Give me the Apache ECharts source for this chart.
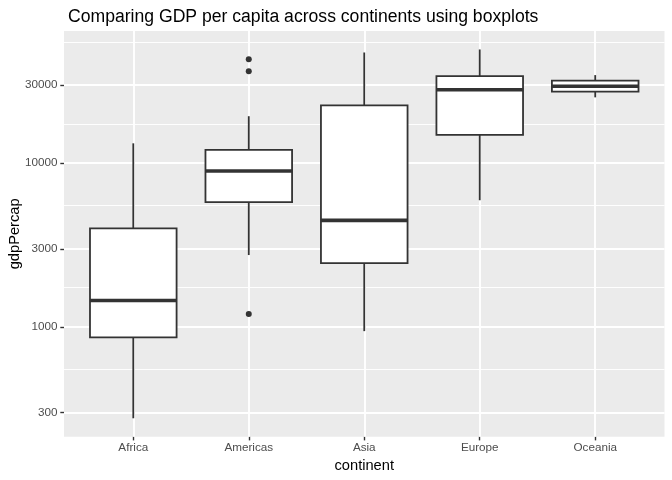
<!DOCTYPE html>
<html>
<head>
<meta charset="utf-8">
<script src="https://cdn.jsdelivr.net/npm/echarts@6/dist/echarts.min.js"></script>
<style>
  html, body { margin: 0; padding: 0; background: #fff; }
  #chart { width: 672px; height: 480px; }
</style>
</head>
<body>
<div id="chart"></div>
<script>
// box statistics (gdpPercap, 2007)
const continents = ['Africa', 'Americas', 'Asia', 'Europe', 'Oceania'];
const whiskerLow = [277.6, 2749, 944, 5937, 25185];
const lowerHinge = [865, 5781, 2455, 14890, 27300];
const medians = [1452, 8948, 4471, 28054, 29450];
const upperHinge = [4000, 12050, 22490, 33900, 31900];
const whiskerHigh = [13206, 19329, 47307, 49357, 34435];

const outlierContinent = ['Americas', 'Americas', 'Americas'];
const outlierGdp = [42952, 36319, 1201.6];

const majorBreaks = [300, 1000, 3000, 10000, 30000];
const minorBreaks = [547.7, 1732, 5477, 17321, 54772];

const lg = Math.log10;
const pos = name => continents.indexOf(name) + 1;

const boxData = continents.map((c, i) => [
    i + 1, lg(whiskerLow[i]), lg(lowerHinge[i]), lg(medians[i]), lg(upperHinge[i]), lg(whiskerHigh[i])
]);
const outlierData = outlierGdp.map((v, i) => [pos(outlierContinent[i]), lg(v)]);

const ink = '#333333';

function renderBox(params, api) {
    const x = api.value(0);
    const half = api.size([0.75, 0])[0] / 2;
    const pLow = api.coord([x, api.value(1)]);
    const pQ1 = api.coord([x, api.value(2)]);
    const pMed = api.coord([x, api.value(3)]);
    const pQ3 = api.coord([x, api.value(4)]);
    const pHigh = api.coord([x, api.value(5)]);
    const line = { stroke: ink, lineWidth: 1.8 };
    return {
        type: 'group',
        children: [
            { type: 'line', shape: { x1: pLow[0], y1: pLow[1], x2: pQ1[0], y2: pQ1[1] }, style: line },
            { type: 'line', shape: { x1: pQ3[0], y1: pQ3[1], x2: pHigh[0], y2: pHigh[1] }, style: line },
            {
                type: 'rect',
                shape: { x: pQ3[0] - half, y: pQ3[1], width: half * 2, height: pQ1[1] - pQ3[1] },
                style: { fill: '#ffffff', stroke: ink, lineWidth: 1.8 }
            },
            {
                type: 'line',
                shape: { x1: pMed[0] - half, y1: pMed[1], x2: pMed[0] + half, y2: pMed[1] },
                style: { stroke: ink, lineWidth: 3.6 }
            }
        ]
    };
}

const gridLines = [].concat(
    minorBreaks.map(v => ({ yAxis: lg(v), lineStyle: { width: 0.95 } })),
    majorBreaks.map(v => ({ yAxis: lg(v), lineStyle: { width: 1.9 } })),
    continents.map((c, i) => ({ xAxis: i + 1, lineStyle: { width: 1.9 } }))
);

const chart = echarts.init(document.getElementById('chart'), null, { renderer: 'canvas' });
chart.setOption({
    backgroundColor: '#ffffff',
    animation: false,
    textStyle: { fontFamily: 'Liberation Sans' },
    title: {
        text: 'Comparing GDP per capita across continents using boxplots',
        left: 63,
        top: 3,
        textStyle: { fontFamily: 'Liberation Sans', fontSize: 17.6, fontWeight: 'normal', color: '#000000' }
    },
    grid: {
        left: 64,
        right: 7.5,
        top: 31,
        bottom: 43.3,
        outerBoundsMode: 'none',
        containLabel: false,
        show: true,
        backgroundColor: '#EBEBEB',
        borderWidth: 0
    },
    xAxis: {
        type: 'value',
        min: 0.4,
        max: 5.6,
        name: 'continent',
        nameLocation: 'middle',
        nameGap: 20,
        nameTextStyle: { fontSize: 14.67, color: '#000000' },
        axisLine: { show: false },
        splitLine: { show: false },
        axisTick: { show: true, length: 3.7, customValues: [1, 2, 3, 4, 5], lineStyle: { color: ink, width: 1.4 } },
        axisLabel: {
            customValues: [1, 2, 3, 4, 5],
            margin: 5,
            fontSize: 11.7,
            color: '#4D4D4D',
            formatter: v => continents[Math.round(v) - 1] || ''
        }
    },
    yAxis: {
        type: 'value',
        min: 2.331,
        max: 4.806,
        name: 'gdpPercap',
        nameLocation: 'middle',
        nameGap: 42,
        nameMoveOverlap: false,
        nameTextStyle: { fontSize: 14.67, color: '#000000' },
        axisLine: { show: false },
        splitLine: { show: false },
        axisTick: { show: true, length: 3.7, customValues: majorBreaks.map(lg), lineStyle: { color: ink, width: 1.4 } },
        axisLabel: {
            customValues: majorBreaks.map(lg),
            margin: 6.5,
            fontSize: 11.7,
            color: '#4D4D4D',
            formatter: v => String(Math.round(Math.pow(10, v)))
        }
    },
    series: [
        {
            name: 'grid',
            type: 'line',
            data: [],
            z: 1,
            silent: true,
            markLine: {
                z: 1,
                silent: true,
                animation: false,
                symbol: 'none',
                label: { show: false },
                lineStyle: { color: '#ffffff', type: 'solid' },
                data: gridLines
            }
        },
        {
            name: 'boxes',
            type: 'custom',
            z: 10,
            renderItem: renderBox,
            encode: { x: 0, y: [1, 2, 3, 4, 5] },
            data: boxData
        },
        {
            name: 'outliers',
            type: 'scatter',
            z: 11,
            symbolSize: 6,
            itemStyle: { color: ink, opacity: 1 },
            data: outlierData
        }
    ]
});
</script>
</body>
</html>
